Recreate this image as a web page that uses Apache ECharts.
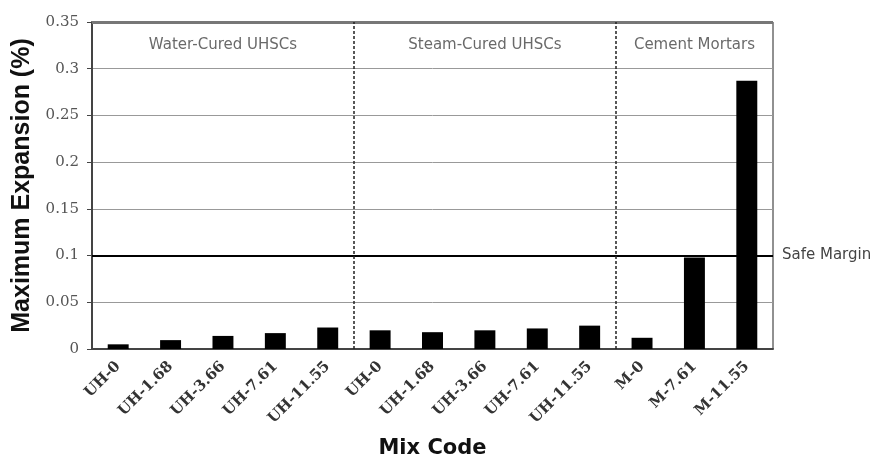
<!DOCTYPE html>
<html><head><meta charset="utf-8">
<script src="https://cdn.jsdelivr.net/npm/echarts@6/dist/echarts.min.js"></script>
<style>html,body{margin:0;padding:0;background:#fff}#c{width:879px;height:460px}</style>
</head><body><div id="c"></div>
<script>
var categories = ['UH-0','UH-1.68','UH-3.66','UH-7.61','UH-11.55','UH-0','UH-1.68','UH-3.66','UH-7.61','UH-11.55','M-0','M-7.61','M-11.55'];
var expansion = [0.005,0.0095,0.014,0.017,0.023,0.020,0.018,0.020,0.022,0.025,0.012,0.098,0.287];
var yTicks = [0,0.05,0.1,0.15,0.2,0.25,0.3,0.35];
var groupNames = ['Water-Cured UHSCs','Steam-Cured UHSCs','Cement Mortars'];
var groupCenters = [2.5,7.5,11.5];
var groupDividers = [5,10];
var safeMargin = 0.1;

var chart = echarts.init(document.getElementById('c'));
var serif = '"DejaVu Serif","Liberation Serif",serif';
var sansW = '"DejaVu Sans",sans-serif';
var sans = '"Liberation Sans",Arial,sans-serif';
chart.setOption({
  animation:false,
  grid:{left:92,right:106,top:22,bottom:111,show:true,borderColor:'#222',borderWidth:1,
    outerBoundsMode:'none',containLabel:false},
  xAxis:[{
    type:'category',data:categories,
    axisTick:{show:false},
    axisLine:{lineStyle:{color:'#444',width:2}},
    axisLabel:{rotate:45,interval:0,fontFamily:serif,fontWeight:'bold',fontSize:15,color:'#333',margin:15},
    name:'Mix Code',nameLocation:'middle',nameGap:89,
    nameTextStyle:{fontFamily:sansW,fontWeight:'bold',fontSize:21,color:'#111'}
  },{
    type:'value',min:0,max:13,show:false
  }],
  yAxis:{
    type:'value',min:0,max:0.35,interval:0.05,
    axisLine:{show:true,lineStyle:{color:'#444',width:2}},
    axisTick:{show:true,length:5,lineStyle:{color:'#444'}},
    axisLabel:{fontFamily:serif,fontSize:15,color:'#555',margin:13,
      formatter:function(v){var i=yTicks.indexOf(Math.round(v*100)/100);return i>=0?String(yTicks[i]):'';}},
    splitLine:{lineStyle:{color:'#999',width:1}},
    name:'Maximum Expansion (%)',nameLocation:'middle',nameGap:57,
    nameTextStyle:{fontFamily:sans,fontWeight:'bold',fontSize:25,color:'#111'}
  },
  series:[{
    type:'bar',data:expansion,barWidth:'40%',itemStyle:{color:'#000'},
    markLine:{symbol:'none',silent:true,
      data:[
        {yAxis:safeMargin,lineStyle:{color:'#000',width:2,type:'solid'},
         label:{show:true,position:'end',formatter:'Safe Margin',fontFamily:sansW,fontSize:15,color:'#444',distance:9}},
        {yAxis:0.35,lineStyle:{color:'#777',width:3,type:'solid'},label:{show:false}}
      ]}
  },{
    type:'scatter',xAxisIndex:1,symbolSize:0,
    data:groupCenters.map(function(x,i){return {value:[x,0.325],name:groupNames[i]};}),
    label:{show:true,position:'inside',formatter:'{b}',fontFamily:sansW,fontSize:15,color:'#444'},
    markLine:{symbol:'none',silent:true,
      lineStyle:{color:'#222',width:1.5,type:[3,2]},label:{show:false},
      data:groupDividers.map(function(d){return {xAxis:d};})}
  }]
});
</script></body></html>
